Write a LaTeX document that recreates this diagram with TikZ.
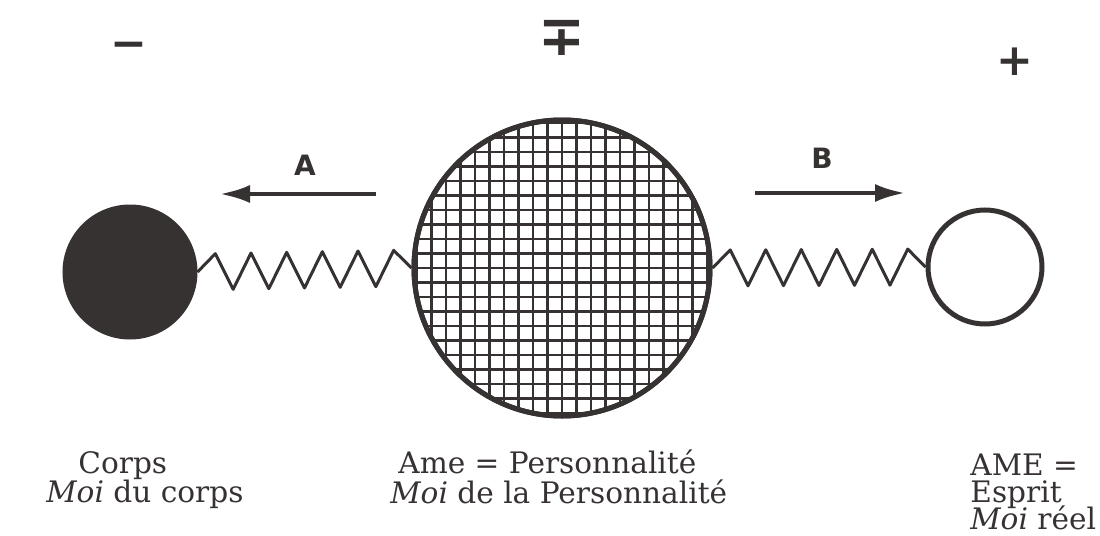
\documentclass[tikz,border=0pt]{standalone}
\usepackage{fontspec}
\setmainfont{DejaVu Serif}
\newfontfamily\signfont{DejaVu Sans}
\usetikzlibrary{calc,arrows.meta}
\definecolor{ink}{RGB}{55,50,50}
\begin{document}
\begin{tikzpicture}[x=0.5pt,y=-0.5pt,
  ball/.style={circle,draw=ink,line width=2.5pt,inner sep=0pt},
  springline/.style={draw=ink,line width=1.5pt,line join=round},
  push/.style={draw=ink,line width=2pt,-{Latex[length=15pt,width=9pt]}},
  lab/.style={font=\fontsize{14.8}{16}\selectfont,text=ink,anchor=base west,inner sep=0pt},
  sign/.style={font=\signfont\bfseries\fontsize{22}{24}\selectfont,text=ink,inner sep=0pt},
  letter/.style={font=\signfont\bfseries\fontsize{14}{16}\selectfont,text=ink,inner sep=0pt}]
\useasboundingbox (0,0) rectangle (1100,536);
% balls
\node[ball,fill=ink,minimum size=65pt] (L) at (130,272) {};
\node[ball,minimum size=148pt] (M) at (562,268) {};
\node[ball,minimum size=57pt] (R) at (985,267) {};
% grid in middle ball
\begin{scope}
  \clip (562,268) circle (147);
  \foreach \k in {-10,...,10} {
    \draw[ink,line width=1.3pt] (562+\k*14.5,110) -- (562+\k*14.5,426);
    \draw[ink,line width=1.3pt] (400,268+\k*14.5) -- (724,268+\k*14.5);
  }
\end{scope}
\node[ball,minimum size=148pt] at (562,268) {};
% springs
\draw[springline] (L.east)
  \foreach \k in {1,...,11} { -- ($(L.east)!\k/12!(M.west)+(0,{18*cos(180*\k)})$) }
  -- (M.west);
\draw[springline] (M.east)
  \foreach \k in {1,...,11} { -- ($(M.east)!\k/12!(R.west)+(0,{18*cos(180*\k)})$) }
  -- (R.west);
% arrows
\coordinate (a1) at (376,194);
\coordinate (a2) at (220,194);
\coordinate (b1) at (755,193);
\coordinate (b2) at (905,193);
\draw[push] (a1) -- (a2);
\draw[push] (b1) -- (b2);
\node[letter] (A) at (305,165) {A};
\node[letter] (B) at (822,158) {B};
% signs
\node[sign] (sm) at (129,50) {−};
\node[sign,font=\signfont\bfseries\fontsize{28}{30}\selectfont] (smp) at (562,38) {∓};
\node[sign] (sp) at (1015,62) {+};
% labels
\node[lab] (t1) at (78,473) {Corps};
\node[lab] (t2) at (46,502) {\textit{Moi} du corps};
\node[lab] (t3) at (398,473) {Ame = Personnalité};
\node[lab] (t4) at (390,503) {\textit{Moi} de la Personnalité};
\node[lab] (t5) at (970,475) {AME =};
\node[lab] (t6) at (970,502) {Esprit};
\node[lab] (t7) at (970,529) {\textit{Moi} réel};
\end{tikzpicture}
\end{document}
